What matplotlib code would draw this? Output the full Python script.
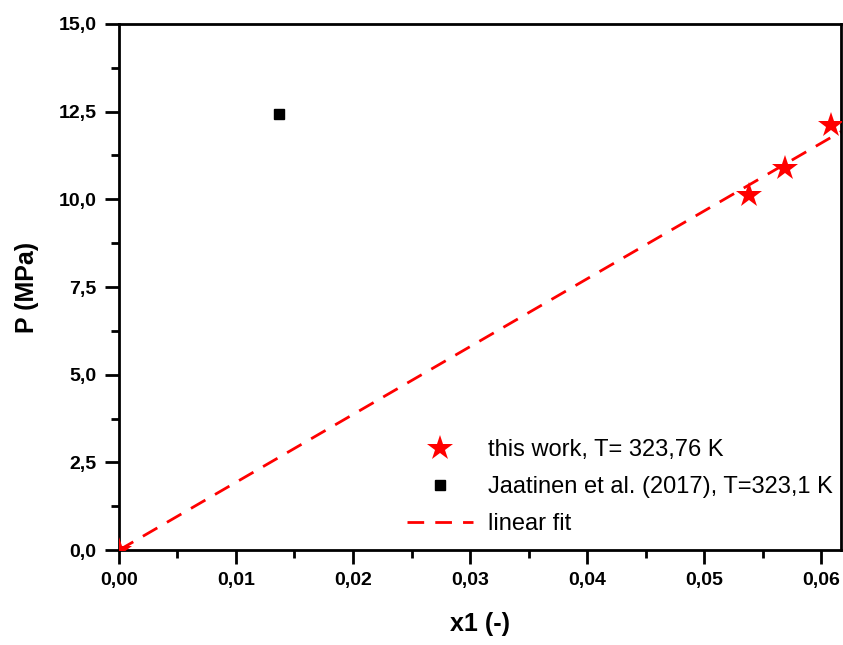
import matplotlib
matplotlib.use("Agg")
import matplotlib.pyplot as plt
from matplotlib.ticker import MultipleLocator, FuncFormatter
import numpy as np

plt.rcParams['font.family'] = ['Liberation Sans', 'DejaVu Sans']

# data
x_work = [0.0, 0.0538, 0.0569, 0.0608]
p_work = [0.0, 10.12, 10.89, 12.12]
x_lit = [0.01364]
p_lit = [12.43]

# linear fit through the origin
xw = np.array(x_work)
pw = np.array(p_work)
slope = np.sum(xw * pw) / np.sum(xw * xw)
x_fit = np.array([0.0, 0.0617])

fig = plt.figure(figsize=(8.43, 6.45), dpi=100)
ax = fig.add_axes([0.141, 0.147, 0.857, 0.816])

ax.plot(x_work, p_work, '*', color='red', markersize=19, markeredgewidth=0,
        label='this work, T= 323,76 K', zorder=3)
ax.plot(x_lit, p_lit, 's', color='black', markersize=7,
        label='Jaatinen et al. (2017), T=323,1 K', zorder=3)
ax.plot(x_fit, slope * x_fit, '--', color='red', lw=2, dashes=(6, 4),
        label='linear fit', zorder=2)

ax.set_xlim(0, 0.0617)
ax.set_ylim(0, 15)
ax.xaxis.set_major_locator(MultipleLocator(0.01))
ax.xaxis.set_minor_locator(MultipleLocator(0.005))
ax.yaxis.set_major_locator(MultipleLocator(2.5))
ax.yaxis.set_minor_locator(MultipleLocator(1.25))
ax.xaxis.set_major_formatter(FuncFormatter(lambda v, p: f"{v:.2f}".replace('.', ',')))
ax.yaxis.set_major_formatter(FuncFormatter(lambda v, p: f"{v:.1f}".replace('.', ',')))

ax.tick_params(which='both', direction='out', width=2, top=False, right=False)
ax.tick_params(which='major', length=10, pad=6, labelsize=14)
ax.tick_params(which='minor', length=6)
for lab in ax.get_xticklabels() + ax.get_yticklabels():
    lab.set_fontweight('bold')
for s in ax.spines.values():
    s.set_linewidth(2)

ax.set_xlabel('x1 (-)', fontsize=18, fontweight='bold', labelpad=16)
ax.set_ylabel('P (MPa)', fontsize=18, fontweight='bold', labelpad=14)

ax.legend(loc='lower left', bbox_to_anchor=(0.386, 0.010), frameon=False,
          fontsize=17, handlelength=2.8, handletextpad=0.64,
          labelspacing=0.65, borderaxespad=0, numpoints=1)

fig.savefig('out.png', dpi=100)
